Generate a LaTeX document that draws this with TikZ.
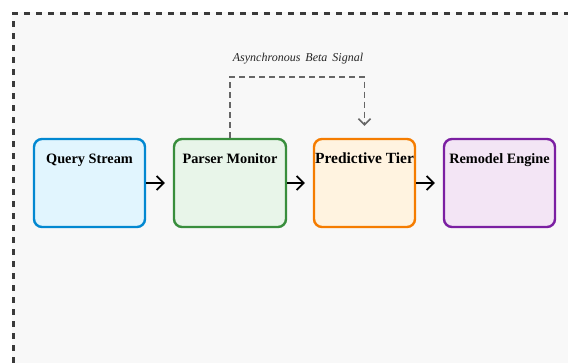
\documentclass[tikz,border=0pt]{standalone}
\usepackage{fontspec}
\setmainfont{Liberation Serif}
\usetikzlibrary{arrows.meta}

\definecolor{canvas}{HTML}{F8F8F8}
\definecolor{frameline}{HTML}{3A3A3A}
\definecolor{qline}{HTML}{0288D1}\definecolor{qfill}{HTML}{E1F5FE}
\definecolor{pline}{HTML}{388E3C}\definecolor{pfill}{HTML}{E8F5E9}
\definecolor{tline}{HTML}{F57C00}\definecolor{tfill}{HTML}{FFF3E0}
\definecolor{rline}{HTML}{7B1FA2}\definecolor{rfill}{HTML}{F3E5F5}
\definecolor{signal}{HTML}{666666}

\tikzset{
  stagebox/.style={rectangle, rounded corners=8pt, line width=2.4pt,
    minimum height=88pt, inner xsep=0pt, inner ysep=0pt,
    text height=25pt, text depth=63pt, align=center,
    font=\fontsize{14.3}{16}\selectfont\bfseries},
  flow/.style={line width=1.8pt, black,
    -{Straight Barb[length=7pt,width=14pt,line width=1.8pt]}, shorten >=8pt},
  signalpath/.style={line width=1.5pt, signal, dash pattern=on 6pt off 4pt,
    -{Straight Barb[length=6pt,width=12pt,line width=1.5pt]}, shorten >=12pt},
  signallabel/.style={font=\fontsize{12}{14}\selectfont\itshape, text=black!85,
    anchor=base, inner sep=0pt}
}

\begin{document}
\begin{tikzpicture}[x=1pt,y=-1pt]
  \useasboundingbox (0,0) rectangle (568,363);
  \clip (0,0) rectangle (568,363);

  % canvas with its dashed border (continues past the page edges)
  \fill[canvas] (12,12) rectangle (580,380);
  \draw[frameline, line width=2.6pt, dash pattern=on 6pt off 6pt]
    (13.5,375) -- (13.5,13.5) -- (580,13.5);

  % pipeline stages
  \node[stagebox, draw=qline, fill=qfill, minimum width=111pt] (query) at (89.5,183) {Query Stream};
  \node[stagebox, draw=pline, fill=pfill, minimum width=112pt] (parser) at (230,183) {Parser Monitor};
  \node[stagebox, draw=tline, fill=tfill, minimum width=101pt,
        font=\fontsize{15.5}{17}\selectfont\bfseries] (tier) at (364.5,183) {Predictive Tier};
  \node[stagebox, draw=rline, fill=rfill, minimum width=111pt] (remodel) at (499.5,183) {Remodel Engine};

  % main flow
  \draw[flow] (query.east) -- (parser.west);
  \draw[flow] (parser.east) -- (tier.west);
  \draw[flow] (tier.east) -- (remodel.west);

  % asynchronous feedback
  \coordinate (bend) at (0,77);
  \draw[signalpath] (parser.north) -- (parser.north |- bend) -- (tier.north |- bend) -- (tier.north);
  \node[signallabel] (siglabel) at (298,62) {Asynchronous\, Beta\, Signal};
\end{tikzpicture}
\end{document}
